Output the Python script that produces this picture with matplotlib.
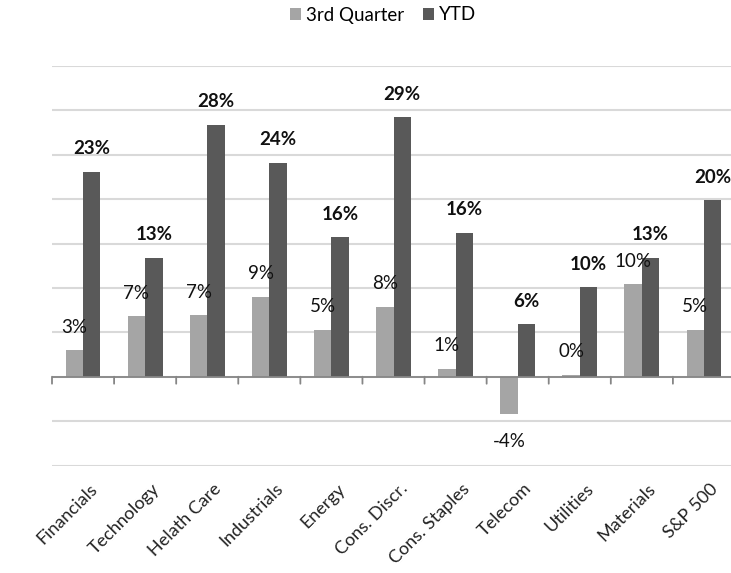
import numpy as np
import matplotlib.pyplot as plt

# sector returns, %
sectors = ["Financials", "Technology", "Helath Care", "Industrials", "Energy",
           "Cons. Discr.", "Cons. Staples", "Telecom", "Utilities", "Materials",
           "S&P 500"]
q3 = [3.0, 6.8, 6.9, 9.0, 5.3, 7.9, 0.9, -4.2, 0.2, 10.4, 5.3]
ytd = [23.1, 13.4, 28.4, 24.1, 15.7, 29.2, 16.2, 5.9, 10.1, 13.4, 19.9]
series_names = ["3rd Quarter", "YTD"]

plt.rcParams['font.family'] = ['Lato', 'DejaVu Sans']

light = '#A5A5A5'
dark = '#595959'
grid_c = '#D9D9D9'
axis_c = '#868686'

fig = plt.figure(figsize=(7.31, 5.73), dpi=100)
W, H = 731, 573
# axes runs a little past the right edge, like the original
ax = fig.add_axes([52 / W, 1 - 465.5 / H, (735 - 52) / W, (465.5 - 66) / H])

x = np.arange(len(sectors))
bw = 0.28
b1 = ax.bar(x - bw / 2, q3, bw, color=light, label=series_names[0], zorder=3)
b2 = ax.bar(x + bw / 2, ytd, bw, color=dark, label=series_names[1], zorder=3)

ax.set_xlim(-0.5, len(sectors) - 0.5)
ax.set_ylim(-10, 35)
ax.set_yticks(np.arange(-10, 36, 5))
ax.yaxis.grid(True, color=grid_c, linewidth=1.5, zorder=0)
ax.tick_params(axis='y', length=0, labelleft=False)
for s in ax.spines.values():
    s.set_visible(False)
ax.axhline(0, color=axis_c, linewidth=1.3, zorder=4)

# category boundary ticks hanging below the zero line
for b in np.arange(-0.5, len(sectors), 1.0):
    ax.annotate('', xy=(b, 0), xytext=(0, -7), textcoords='offset pixels',
                arrowprops=dict(arrowstyle='-', color=axis_c, lw=1.3,
                                shrinkA=0, shrinkB=0), zorder=4)

# rotated category labels
ax.set_xticks(x)
ax.set_xticklabels([])
ax.tick_params(axis='x', length=0)
for i, name in enumerate(sectors):
    ax.annotate(name, xy=(i, -10), xytext=(6, -15), textcoords='offset pixels',
                rotation=45, rotation_mode='anchor', ha='right', va='top',
                fontsize=13, color='#222222', annotation_clip=False)

# value labels
for xi, v in zip(x - bw / 2, q3):
    off = 23 if v >= 0 else -27
    ax.annotate(f"{round(v)}%", xy=(xi, v), xytext=(0, off), textcoords='offset pixels',
                ha='center', va='center', fontsize=13.5, color='#111111', zorder=5)
for xi, v in zip(x + bw / 2, ytd):
    ax.annotate(f"{round(v)}%", xy=(xi, v), xytext=(0, 23), textcoords='offset pixels',
                ha='center', va='center', fontsize=13.5, fontweight='bold',
                color='#111111', zorder=5)

fig.legend(handles=[b1, b2], loc='center', bbox_to_anchor=(383 / W, 1 - 15 / H),
           ncol=2, frameon=False, fontsize=13.5, handlelength=0.6, handleheight=0.6,
           handletextpad=0.25, columnspacing=1.0)

fig.savefig('out.png', dpi=100)
